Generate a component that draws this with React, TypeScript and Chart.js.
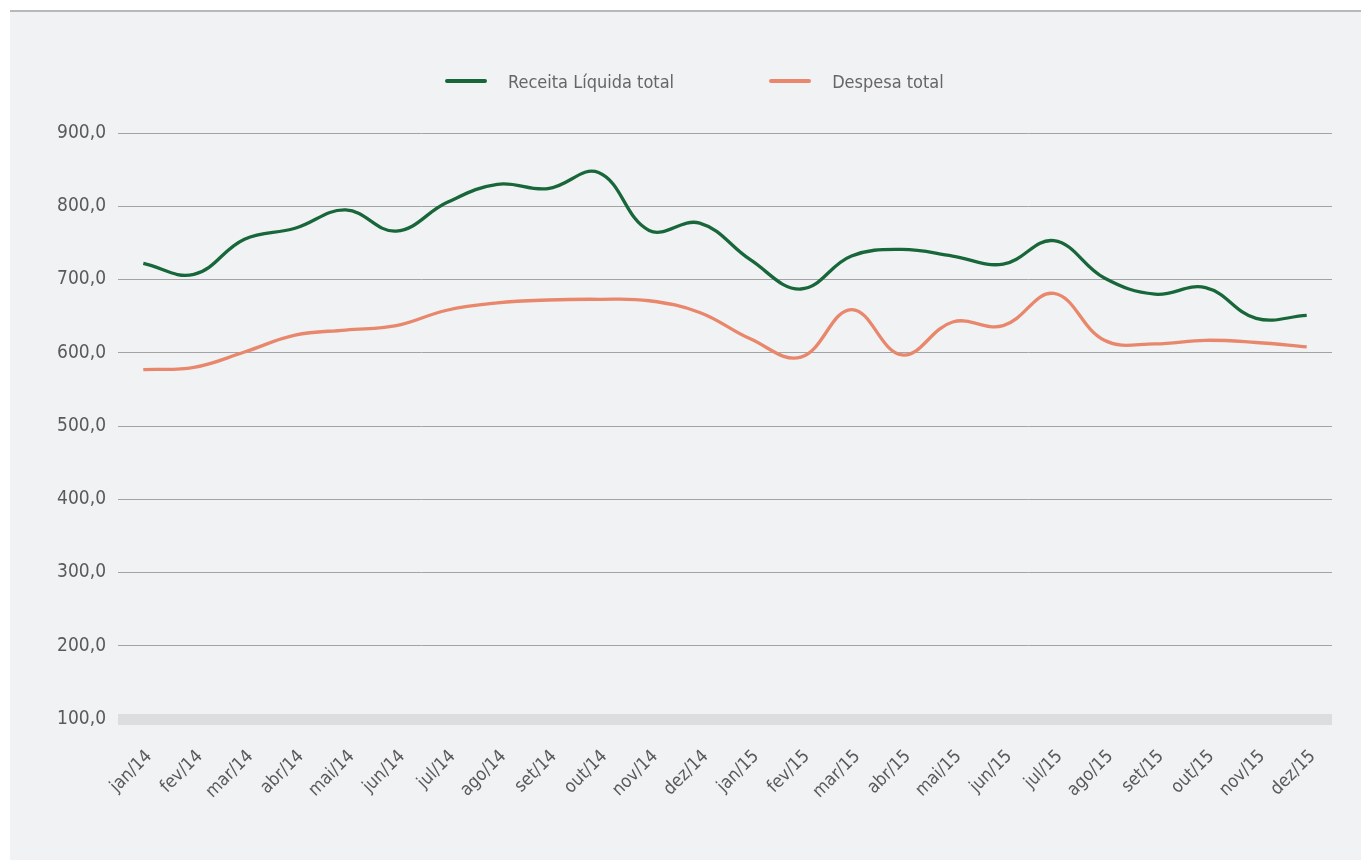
import React, { useEffect, useRef } from "react";
import { Chart, registerables } from "chart.js";

Chart.register(...registerables);

const months = [
  "jan/14", "fev/14", "mar/14", "abr/14", "mai/14", "jun/14", "jul/14", "ago/14", "set/14", "out/14", "nov/14", "dez/14",
  "jan/15", "fev/15", "mar/15", "abr/15", "mai/15", "jun/15", "jul/15", "ago/15", "set/15", "out/15", "nov/15", "dez/15",
];

const receitaLiquida = [722, 707, 755, 770, 795, 766, 805, 830, 824, 846, 767, 777, 727, 687, 732, 741, 732, 721, 753, 702, 680, 689, 647, 651];
const despesaTotal = [577, 580, 601, 624, 631, 637, 658, 668, 672, 673, 671, 655, 619, 594, 659, 597, 642, 637, 681, 617, 612, 617, 614, 608];

const seriesNames = ["Receita Líquida total", "Despesa total"];
const seriesColors = ["#17673a", "#e8876b"];

const yTicks = [100, 200, 300, 400, 500, 600, 700, 800, 900];

const FONT = "'Liberation Sans Narrow', 'DejaVu Sans Condensed', 'Arial Narrow', sans-serif";

export default function App() {
  const canvasRef = useRef<HTMLCanvasElement | null>(null);

  useEffect(() => {
    document.body.style.margin = "0";
    const canvas = canvasRef.current;
    if (!canvas) return;
    const chart = new Chart(canvas, {
      type: "line",
      data: {
        labels: months,
        datasets: [
          {
            label: seriesNames[0],
            data: receitaLiquida,
            borderColor: seriesColors[0],
            backgroundColor: seriesColors[0],
            borderWidth: 3.3,
            pointRadius: 0,
            tension: 0.4,
          },
          {
            label: seriesNames[1],
            data: despesaTotal,
            borderColor: seriesColors[1],
            backgroundColor: seriesColors[1],
            borderWidth: 3.3,
            pointRadius: 0,
            tension: 0.4,
          },
        ],
      },
      options: {
        animation: false,
        responsive: false,
        maintainAspectRatio: false,
        layout: { padding: { left: 0, right: 29, top: 133, bottom: 0 } },
        plugins: {
          legend: { display: false },
          tooltip: { enabled: false },
        },
        scales: {
          x: {
            offset: true,
            grid: { display: false, drawTicks: false },
            border: { display: false },
            ticks: {
              minRotation: 45,
              maxRotation: 45,
              autoSkip: false,
              padding: 27,
              labelOffset: 6,
              color: "#5a5a5a",
              font: { family: FONT, size: 18 },
            },
            afterFit: (scale: any) => {
              scale.height = 141;
            },
          },
          y: {
            min: 100,
            max: 900,
            afterBuildTicks: (scale: any) => {
              scale.ticks = yTicks.map((v) => ({ value: v }));
            },
            grid: {
              drawTicks: false,
              color: (ctx: any) => (ctx.tick && ctx.tick.value === 100 ? "#dcdddf" : "#a3a3a5"),
              lineWidth: (ctx: any) => (ctx.tick && ctx.tick.value === 100 ? 11 : 1),
            },
            border: { display: false },
            ticks: {
              padding: 12,
              color: "#5a5a5a",
              font: { family: FONT, size: 19 },
              callback: (v: any) => Number(v).toFixed(1).replace(".", ","),
            },
            afterFit: (scale: any) => {
              scale.width = 118;
            },
          },
        },
      },
    });
    return () => chart.destroy();
  }, []);

  return (
    <div style={{ position: "relative", width: 1361, height: 860, background: "#ffffff", overflow: "hidden" }}>
      <div
        style={{
          position: "absolute",
          left: 10,
          top: 10,
          width: 1351,
          height: 850,
          background: "#f1f2f4",
          borderTop: "2px solid #b8b8ba",
        }}
      />
      <canvas ref={canvasRef} width={1361} height={860} style={{ position: "absolute", left: 0, top: 0 }} />
      <div
        style={{
          position: "absolute",
          left: 445,
          top: 68,
          height: 26,
          display: "flex",
          alignItems: "center",
          fontFamily: FONT,
          fontSize: 18,
          color: "#666666",
        }}
      >
        {seriesNames.map((name, i) => (
          <div key={name} style={{ display: "flex", alignItems: "center", marginRight: i === 0 ? 95 : 0 }}>
            <span
              style={{
                display: "inline-block",
                width: 42,
                height: 4,
                borderRadius: 2,
                background: seriesColors[i],
                marginRight: 21,
              }}
            />
            <span>{name}</span>
          </div>
        ))}
      </div>
    </div>
  );
}
